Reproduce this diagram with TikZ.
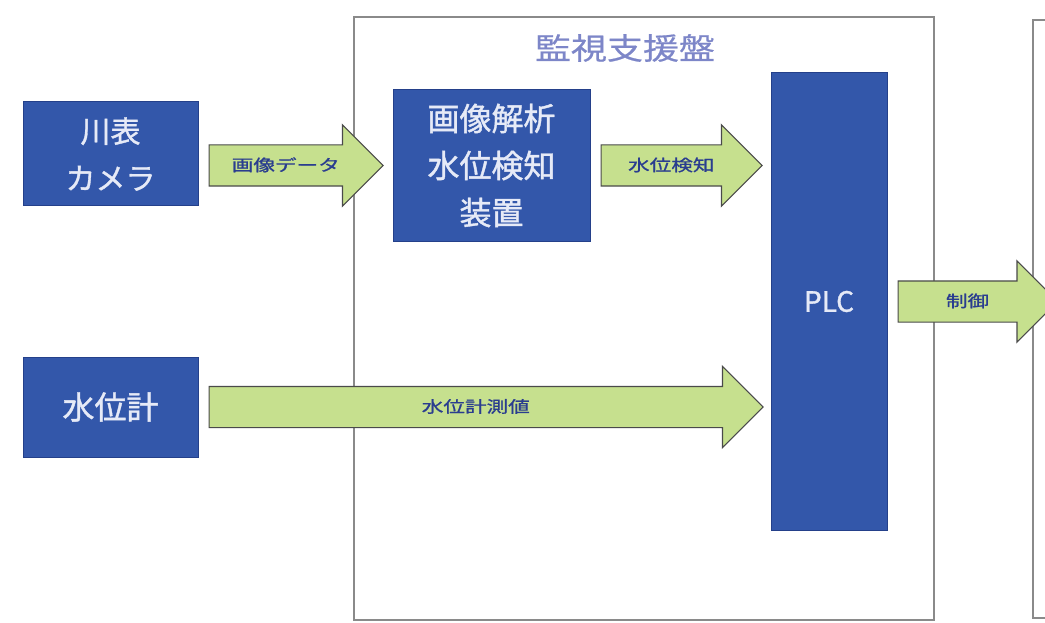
\documentclass[tikz,border=0pt]{standalone}
\usepackage{fontspec}
\setmainfont{Noto Sans CJK JP}
\newfontfamily\boxfont[FakeBold=1.2]{Noto Sans CJK JP}
\newfontfamily\labelfont[FakeStretch=1.35, FakeBold=1]{Noto Sans CJK JP}
\newfontfamily\titlefont[FakeStretch=1.2, FakeBold=0.6]{Noto Sans CJK JP}
\usepackage{tikz}
\usetikzlibrary{shapes.arrows, calc}
\definecolor{boxblue}{HTML}{3357AA}
\definecolor{boxedge}{HTML}{24408A}
\definecolor{boxtext}{HTML}{E6EAF7}
\definecolor{arrowgreen}{HTML}{C6E08E}
\definecolor{arrowedge}{HTML}{4A4A4A}
\definecolor{labelblue}{HTML}{2A3D8F}
\definecolor{titleblue}{HTML}{7D86C8}
\definecolor{framegray}{HTML}{8A8A8A}
\tikzstyle{device} = [rectangle, draw=boxedge, line width=1pt, fill=boxblue, text=boxtext, inner sep=0pt, align=center, font=\boxfont\fontsize{32}{47}\selectfont]
\tikzstyle{frame} = [rectangle, draw=framegray, line width=1.5pt, inner sep=0pt]
\tikzstyle{flow} = [single arrow, draw=arrowedge, fill=arrowgreen, line width=1.2pt, single arrow head extend=20pt, inner xsep=0pt, inner ysep=11.5pt, text height=14pt, text depth=3pt, text=labelblue, font=\labelfont\fontsize{16}{16}\selectfont]
% fat arrow from #2 to #3 (height of #3), label #4
\newcommand{\flowarrow}[4]{%
  \path let \p1=(#2), \p2=(#3) in
    node (#1) [flow, minimum height=\x2-\x1, anchor=tail] at (\x1,\y2) {#4};
}

\begin{document}
\begin{tikzpicture}[x=1pt, y=-1pt]
\clip (0,0) rectangle (1045,623);

\node (panel) [frame, minimum width=580pt, minimum height=603pt] at (644,318.5) {};
\node (title) [text=titleblue, font=\titlefont\fontsize{30}{30}\selectfont] at (625,48) {監視支援盤};
\node (ctrl) [frame, minimum width=100pt, minimum height=598pt] at (1083,319) {};

\node (cam) [device, minimum width=175pt, minimum height=104pt, font=\boxfont\fontsize{30}{47}\selectfont] at (110.5,154) {川表\\カメラ};
\node (lvl) [device, minimum width=175pt, minimum height=100pt] at (110.5,407) {水位計};
\node (img) [device, minimum width=197pt, minimum height=151pt] at (491.5,165.5) {画像解析\\水位検知\\装置};
\node (plc) [device, minimum width=116pt, minimum height=457pt, font=\boxfont\fontsize{28}{28}\selectfont] at (829,301.5) {PLC};
\coordinate (out) at (1057,301.5);

\flowarrow{a1}{[xshift=10pt]cam.east}{[xshift=-10pt]img.west}{画像データ}
\flowarrow{a2}{[xshift=10pt]img.east}{[xshift=-9pt]plc.west |- img.east}{水位検知}
\flowarrow{a3}{[xshift=10pt]lvl.east}{[xshift=-8pt]plc.west |- lvl.east}{水位計測値}
\flowarrow{a4}{[xshift=10pt]plc.east}{out}{制御}

\end{tikzpicture}
\end{document}
